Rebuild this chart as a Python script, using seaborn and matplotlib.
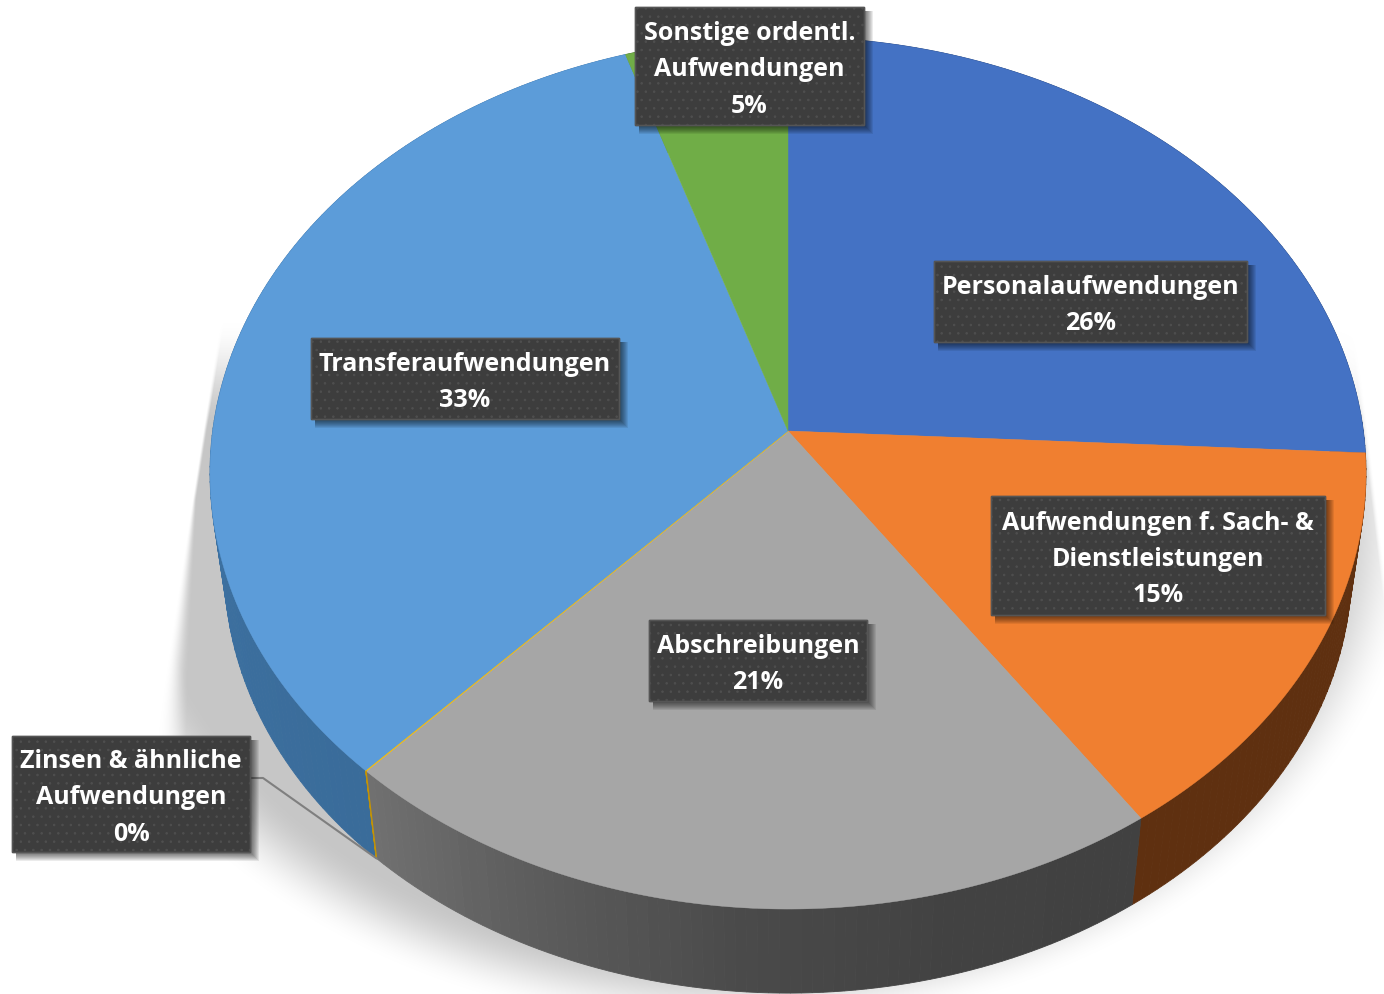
import numpy as np
import matplotlib
matplotlib.use("Agg")
import matplotlib.pyplot as plt
from matplotlib.patches import Rectangle
import seaborn as sns

# slice names and shares, clockwise from 12 o'clock
names = ["Personalaufwendungen", "Aufwendungen f. Sach- &\nDienstleistungen", "Abschreibungen",
         "Zinsen & ähnliche\nAufwendungen", "Transferaufwendungen", "Sonstige ordentl.\nAufwendungen"]
shares = [25.8, 14.65, 21.49, 0.02, 33.05, 4.99]
top_colors = ["#4472C4", "#F07F30", "#A6A6A6", "#FFC000", "#5C9CD9", "#70AD47"]
side_stops = [["#2A4678", "#2A4678"], ["#5F3010", "#5F3010"],
              ["#414141", "#424242", "#4A4A4A", "#5C5C5C", "#707070"],
              ["#C79500", "#C79500"], ["#3A6C9A", "#4178AC"], ["#43682B", "#43682B"]]

# label boxes x0, y0, x1, y1
boxes = [(934, 262, 1247, 343), (991, 497, 1325, 616), (649, 621, 867, 702),
         (12, 737, 250, 853), (311, 339, 619, 420), (635, 8, 864, 126)]

W, H = 1384, 995
APEX_X, APEX_Y, APEX_Y_LOW = 788, 432, 528
A, B, K, LOW = 575.3, 432, 0.0963, 0.975


def project(theta, low=False):
    # disc seen in perspective, theta clockwise from the back of the disc
    u, v = np.sin(theta), np.cos(theta)
    w = 1 + K * v
    if low:
        return APEX_X + LOW * A * u / w, APEX_Y_LOW - LOW * B * v / w
    return APEX_X + A * u / w, APEX_Y - B * v / w


sns.set_theme(style="white")
plt.rcParams['font.family'] = ['Open Sans', 'DejaVu Sans']
plt.rcParams['hatch.linewidth'] = 0.6

fig = plt.figure(figsize=(W / 100, H / 100), dpi=100)
ax = fig.add_axes([0, 0, 1, 1])
ax.set_xlim(0, W)
ax.set_ylim(H, 0)
ax.axis("off")

# soft shadow behind the pie
xx, yy = np.meshgrid(np.arange(W) + 0.5, np.arange(H) + 0.5)
d = np.sqrt(((xx - 735) / 640) ** 2 + ((yy - 520) / 480) ** 2)
shade = np.clip((1.07 - d) / 0.15, 0, 1)
left_edge = 219 - (yy - 330) * 62 / 400
left_soft = 4 + np.clip(yy - 500, 0, None) * 0.11
right_edge = 1368 + (yy - 430) * 32 / 270
shade = shade * np.clip((xx - left_edge) / left_soft, 0, 1) * np.clip((right_edge - xx) / 5, 0, 1)
shade = shade * np.clip((yy - 320) / 110, 0, 1)
rgba = np.zeros((H, W, 4))
rgba[..., :3] = 0.78
rgba[..., 3] = shade * shade * (3 - 2 * shade)
ax.imshow(rgba, extent=(0, W, H, 0), aspect="auto", zorder=0, interpolation="bilinear")

edges = np.cumsum([0] + shares) / sum(shares) * 2 * np.pi
palette = sns.color_palette(top_colors)

# side walls first, the top face then hides the back part
for i in [5, 4, 0, 3, 1, 2]:
    n = max(int((edges[i + 1] - edges[i]) * 180 / np.pi), 2)
    t = np.linspace(edges[i], edges[i + 1], n + 1)
    grad = sns.blend_palette(side_stops[i], n_colors=n)
    for j in range(n):
        tt = np.linspace(t[j], t[j + 1], 4)
        xt, yt = project(tt)
        xb, yb = project(tt, low=True)
        ax.fill(np.r_[xt, xb[::-1]], np.r_[yt, yb[::-1]], color=grad[j], lw=0.6, zorder=1)

# top face
for i, col in enumerate(palette):
    tt = np.linspace(edges[i], edges[i + 1], 300)
    x, y = project(tt)
    ax.fill(np.r_[APEX_X, x], np.r_[APEX_Y, y], color=col, lw=0.9 if shares[i] < 1 else 0.3, zorder=2)

# thin slice edge on the wall
x0, y0 = project(edges[3])
x1, y1 = project(edges[3], low=True)
ax.plot([x0, x1], [y0, y1], color="#C79500", lw=0.9, zorder=3)

# leader line of the 0 % label
ax.plot([250, 263, x1], [779, 779, y1], color="#7F7F7F", lw=1.5, zorder=3)

# labels
for name, share, box in zip(names, shares, boxes):
    bx0, by0, bx1, by1 = box
    for k in range(9, 0, -1):
        ax.add_patch(Rectangle((bx0 + 4, by0 + 4), bx1 - bx0 - 4 + k, by1 - by0 - 4 + k,
                               fc="#000000", alpha=0.08, ec="none", zorder=4))
    ax.add_patch(Rectangle((bx0, by0), bx1 - bx0, by1 - by0, fc="#3D3D3D", ec="#4F4F4F", lw=1,
                           hatch="..", zorder=5))
    ax.add_patch(Rectangle((bx0, by0), bx1 - bx0, by1 - by0, fc="none", ec="#555555", lw=1, zorder=6))
    ax.text((bx0 + bx1) / 2, (by0 + by1) / 2 + 3, f"{name}\n{share:.0f}%", color="white", fontsize=18,
            fontweight="bold", ha="center", va="center", linespacing=1.6, zorder=7)

fig.savefig("out.png", dpi=100)
